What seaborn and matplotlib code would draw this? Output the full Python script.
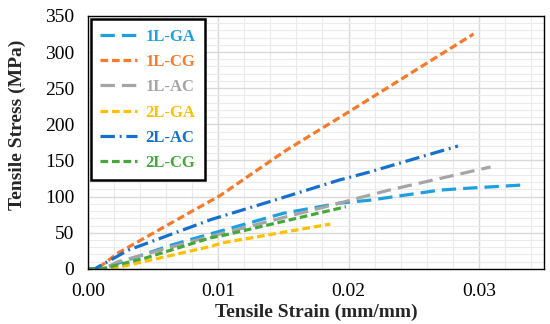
import numpy as np
import pandas as pd
import matplotlib
matplotlib.use("Agg")
import matplotlib.pyplot as plt
import seaborn as sns
from matplotlib.ticker import MultipleLocator, FormatStrFormatter

# values
labels = ["1L-GA", "1L-CG", "1L-AC", "2L-GA", "2L-AC", "2L-CG"]

ga1_x = [0, 0.0012, 0.0064, 0.0095, 0.0150, 0.0193, 0.0216, 0.0270, 0.0295, 0.0333]
ga1_y = [0, 1, 33, 49, 77, 91, 95, 109, 112, 116]

cg1_x = [0, 0.0007, 0.0023, 0.0082, 0.0101, 0.0152, 0.0200, 0.0296]
cg1_y = [0, 0, 22, 82, 101, 164, 217, 325]

ac1_x = [0, 0.0012, 0.0023, 0.0094, 0.0152, 0.0193, 0.0216, 0.0231, 0.0309]
ac1_y = [0, 0, 10, 45, 72, 91, 102, 109, 141]

ga2_x = [0, 0.0015, 0.0023, 0.0094, 0.0103, 0.0186]
ga2_y = [0, 0, 2, 31, 36, 62]

ac2_x = [0, 0.0005, 0.0031, 0.0094, 0.0143, 0.0193, 0.0216, 0.0284]
ac2_y = [0, 0, 26, 68, 95, 123, 134, 170]

cg2_x = [0, 0.0010, 0.0044, 0.0094, 0.0103, 0.0198]
cg2_y = [0, 0, 15, 43, 46, 86]

series_x = [ga1_x, cg1_x, ac1_x, ga2_x, ac2_x, cg2_x]
series_y = [ga1_y, cg1_y, ac1_y, ga2_y, ac2_y, cg2_y]

colors = ["#1E9FDF", "#F57A2A", "#A5A5A5", "#FFC000", "#1570CD", "#47A73A"]
dashes = [(4.5, 2.2), (2.4, 1.2), (4.5, 2.2), (2.4, 1.2), (4.5, 1.5, 0.6, 1.5), (2.4, 1.2)]

sns.set_style("white")
plt.rcParams["font.family"] = ["Liberation Serif", "DejaVu Serif"]

fig = plt.figure(figsize=(5.5, 3.24), dpi=100)
ax = fig.add_axes([0.16, 0.170, 0.829, 0.781])

for lab, xs, ys, col, d in zip(labels, series_x, series_y, colors, dashes):
    df = pd.DataFrame({"strain": xs, "stress": ys})
    sns.lineplot(data=df, x="strain", y="stress", ax=ax, color=col, linewidth=2.3,
                 label=lab, sort=False, estimator=None)
    ax.lines[-1].set_dashes(d)

ax.set_xlim(0, 0.035)
ax.set_ylim(0, 350)
ax.xaxis.set_major_locator(MultipleLocator(0.01))
ax.xaxis.set_minor_locator(MultipleLocator(0.002))
ax.yaxis.set_major_locator(MultipleLocator(50))
ax.yaxis.set_minor_locator(MultipleLocator(10))
ax.xaxis.set_major_formatter(FormatStrFormatter("%.2f"))

ax.grid(which="major", color="#D9D9D9", linewidth=1.0)
ax.grid(which="minor", color="#EBEBEB", linewidth=0.8)
ax.set_axisbelow(True)
for s in ax.spines.values():
    s.set_color("black")
    s.set_linewidth(1.0)

ax.tick_params(which="both", length=0, labelsize=14, colors="black")
ax.tick_params(axis="x", pad=10)
ax.tick_params(axis="y", pad=10)

ax.set_xlabel("Tensile Strain (mm/mm)", fontsize=14, fontweight="bold", labelpad=3)
ax.set_ylabel("Tensile Stress (MPa)", fontsize=14, fontweight="bold", labelpad=13)
ax.yaxis.set_label_coords(-0.137, 0.57)

leg = ax.legend(loc="upper left", bbox_to_anchor=(0.006, 0.986), borderaxespad=0,
                frameon=True, fancybox=False, labelcolor="linecolor",
                prop={"weight": "bold", "size": 12}, handlelength=2.2,
                handletextpad=0.55, labelspacing=0.56, borderpad=0.55)
leg.get_frame().set_edgecolor("black")
leg.get_frame().set_linewidth(1.8)
leg.get_frame().set_alpha(1)

fig.savefig("out.png", dpi=100)
